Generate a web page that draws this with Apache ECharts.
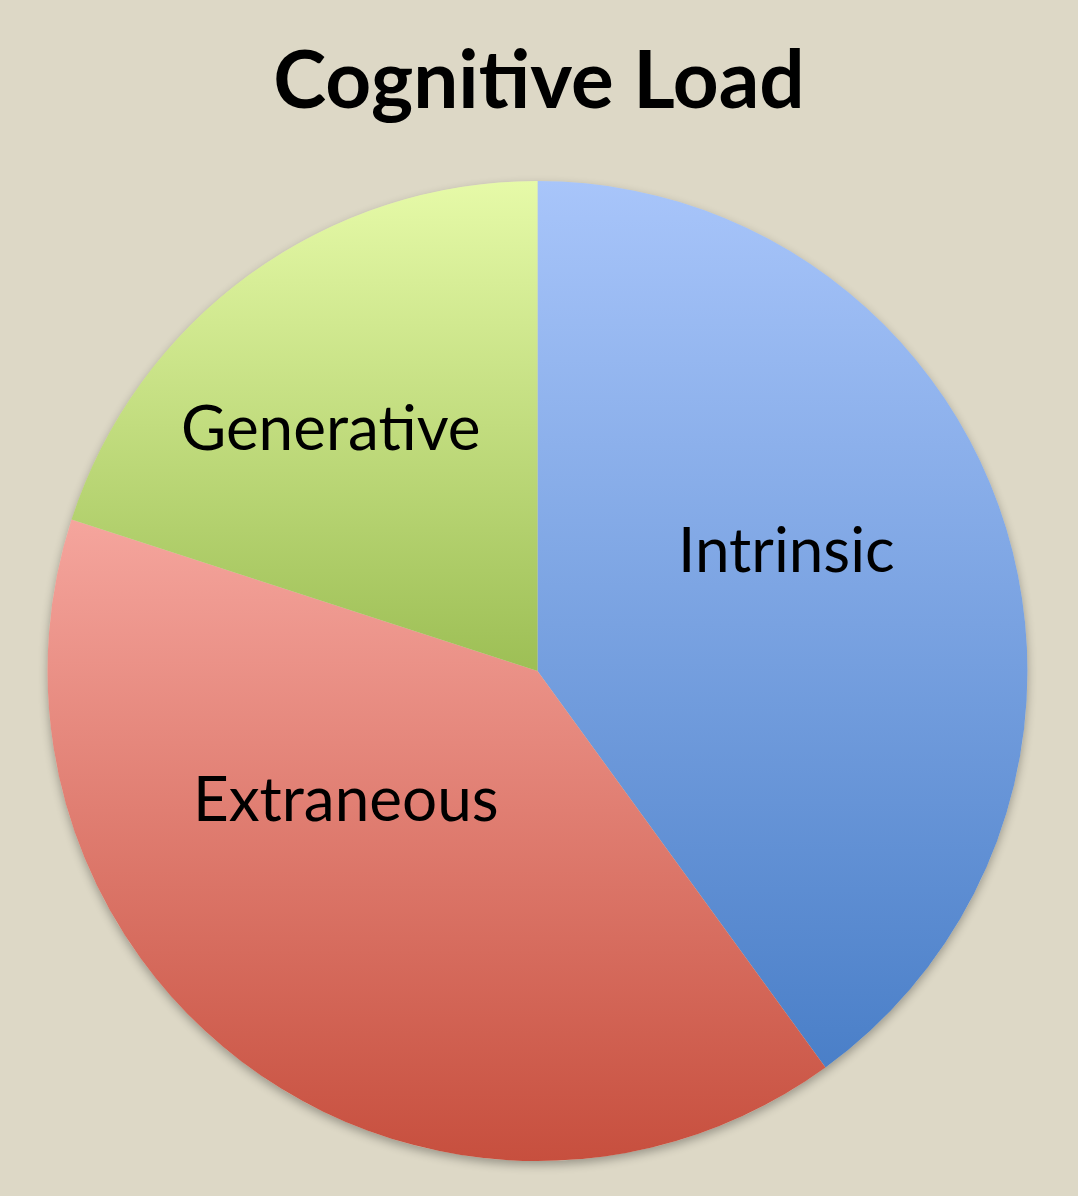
<!DOCTYPE html>
<html>
<head>
<meta charset="utf-8">
<script src="https://cdn.jsdelivr.net/npm/echarts@6/dist/echarts.min.js"></script>
<style>
  html, body { margin: 0; padding: 0; background: #ddd8c6; }
  #chart { width: 1078px; height: 1196px; }
</style>
</head>
<body>
<div id="chart"></div>
<script>
// slices, clockwise from 12 o'clock
var categories = ['Intrinsic', 'Extraneous', 'Generative'];
var values = [40, 40, 20];
// top / bottom colour of each slice gradient
var topColors = ['#a8c5fa', '#f5a59d', '#e6faa8'];
var bottomColors = ['#4a7fc8', '#c74f3e', '#9dbf55'];
// nudge labels to where the original places them
var labelShift = [[13, -42], [-46, -71], [-61, -40]];

var myChart = echarts.init(document.getElementById('chart'));

var pieData = categories.map(function (name, i) {
  return {
    name: name,
    value: values[i],
    itemStyle: {
      color: new echarts.graphic.LinearGradient(0, 0, 0, 1, [
        { offset: 0, color: topColors[i] },
        { offset: 1, color: bottomColors[i] }
      ])
    }
  };
});

var total = values.reduce(function (a, b) { return a + b; }, 0);

var option = {
  backgroundColor: '#ddd8c6',
  title: {
    text: 'Cognitive Load',
    left: 'center',
    top: 37,
    padding: [5, 5, 5, 17],
    textStyle: {
      fontFamily: 'Lato',
      fontWeight: 'bold',
      fontSize: 80,
      color: '#000'
    }
  },
  series: [
    {
      // shadow under the pie
      type: 'pie',
      silent: true,
      center: [537.5, 671],
      radius: 490,
      z: 1,
      label: { show: false },
      data: [{ value: total, itemStyle: { color: '#ddd8c6', shadowBlur: 10, shadowOffsetY: 4, shadowColor: 'rgba(0,0,0,0.3)' } }]
    },
    {
      type: 'pie',
      center: [537.5, 671],
      radius: 490,
      startAngle: 90,
      clockwise: true,
      z: 2,
      itemStyle: { borderWidth: 0 },
      label: {
        show: true,
        position: 'inside',
        formatter: '{b}',
        fontFamily: 'Lato',
        fontSize: 62,
        color: '#000'
      },
      labelLayout: function (params) {
        var s = labelShift[params.dataIndex];
        return { dx: s[0], dy: s[1] };
      },
      emphasis: { disabled: true },
      data: pieData
    }
  ]
};

myChart.setOption(option);
</script>
</body>
</html>
